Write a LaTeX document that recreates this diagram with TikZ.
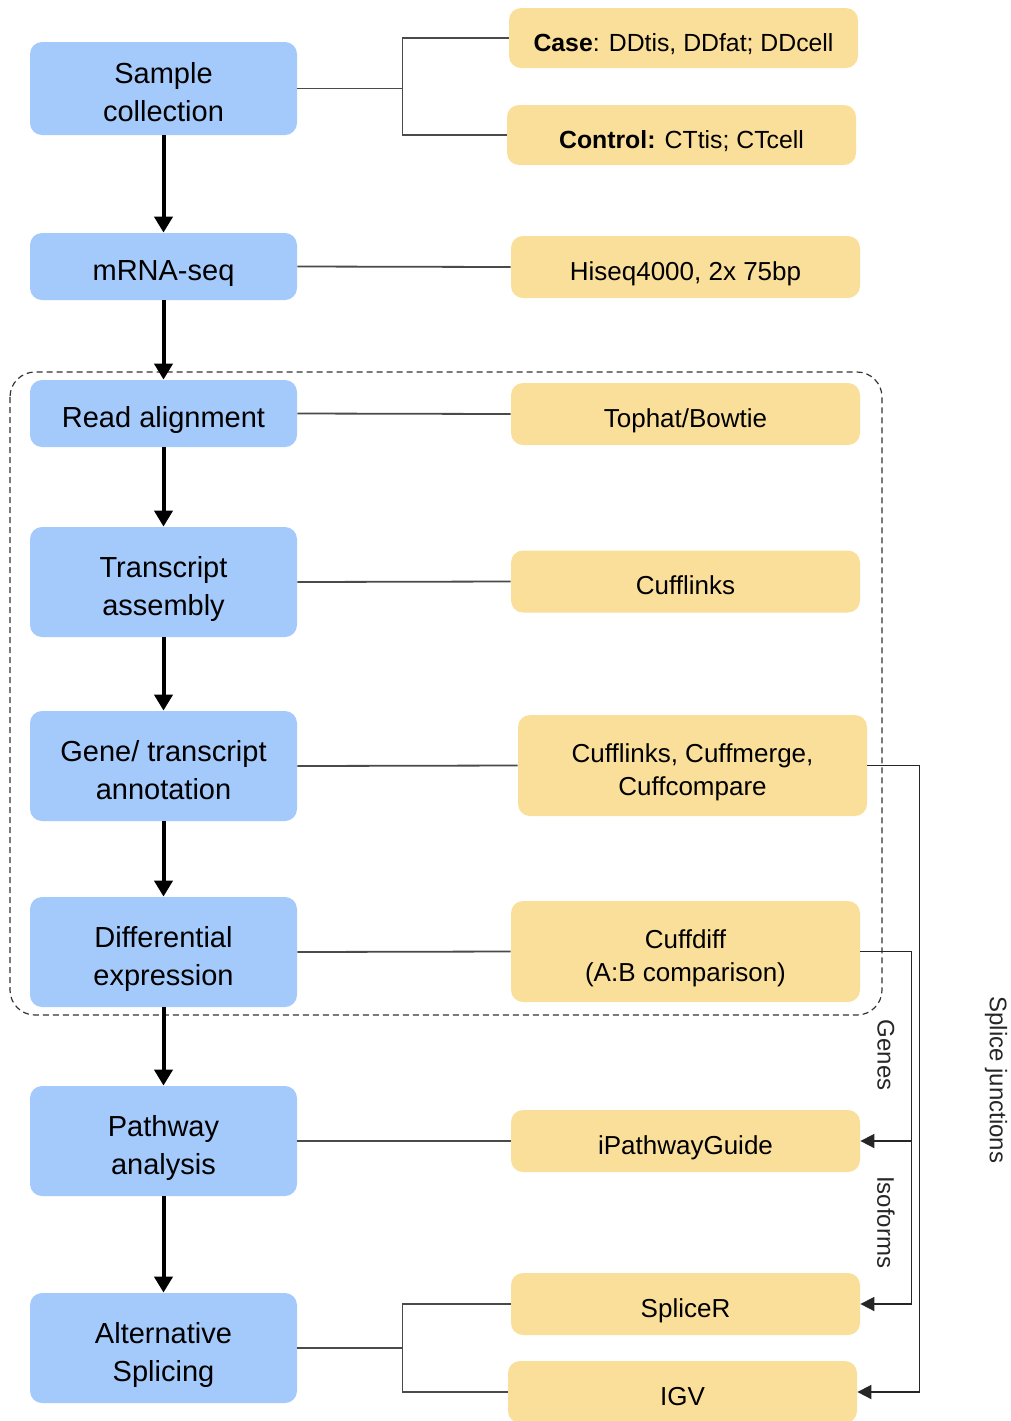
\documentclass[tikz,border=0pt]{standalone}
\usepackage{fontspec}
\setmainfont{Liberation Sans}
\usetikzlibrary{arrows.meta}
\definecolor{bfill}{HTML}{A4C9FB}
\definecolor{yfill}{HTML}{FADF9A}
\definecolor{lgray}{HTML}{4A4A4A}
\newcommand\lw[1]{\raisebox{-3.3pt}[\height][\depth]{\begin{tabular}{@{}c@{}}#1\end{tabular}}}
\begin{document}
\begin{tikzpicture}[x=0.5pt,y=-0.5pt,
  bbox/.style={fill=bfill, draw=none, rounded corners=6pt, minimum width=133.5pt, inner sep=0pt, font=\fontsize{14.5}{19}\selectfont},
  ybox/.style={fill=yfill, draw=none, rounded corners=6pt, minimum width=174.5pt, minimum height=31pt, inner sep=0pt, font=\fontsize{13}{16.5}\selectfont},
  conn/.style={draw=lgray, line width=0.9pt},
  sidearrow/.style={draw=black!85, line width=0.9pt, -{Triangle[length=7pt,width=7pt]}},
  bigarrow/.style={draw=black, line width=2pt, -{Triangle[length=8pt,width=9pt]}},
  lbl/.style={font=\fontsize{12}{14}\selectfont, rotate=-90, text=black!85}
]
\useasboundingbox (0,0) rectangle (1011,1421);
% dashed group
\draw[dashed, line width=0.6pt, draw=black!80, dash pattern=on 3pt off 2pt, rounded corners=12.5pt] (10,372) rectangle (882,1015);

% blue boxes
\node[bbox, minimum height=46.5pt] (s1) at (163.5,88.5) {\lw{Sample\\collection}};
\node[bbox, minimum height=33.5pt] (s2) at (163.5,266.5) {\lw{mRNA-seq}};
\node[bbox, minimum height=33.5pt] (s3) at (163.5,413.5) {\lw{Read alignment}};
\node[bbox, minimum height=55pt] (s4) at (163.5,582) {\lw{Transcript\\assembly}};
\node[bbox, minimum height=55pt] (s5) at (163.5,766) {\lw{Gene/ transcript\\annotation}};
\node[bbox, minimum height=55pt] (s6) at (163.5,952) {\lw{Differential\\expression}};
\node[bbox, minimum height=55pt] (s7) at (163.5,1141) {\lw{Pathway\\analysis}};
\node[bbox, minimum height=55pt] (s8) at (163.5,1348) {\lw{Alternative\\Splicing}};

% yellow boxes
\node[ybox, minimum height=30pt, font=\fontsize{12.4}{16}\selectfont] (case) at (683.5,38) {\lw{\textbf{Case}: DDtis, DDfat; DDcell}};
\node[ybox, minimum height=30pt, font=\fontsize{12.4}{16}\selectfont] (ctrl) at (681.5,135) {\lw{\textbf{Control:} CTtis; CTcell}};
\node[ybox] (hiseq) at (685.5,267) {\lw{Hiseq4000, 2x 75bp}};
\node[ybox] (toph) at (685.5,414) {\lw{Tophat/Bowtie}};
\node[ybox] (cuff) at (685.5,581.5) {\lw{Cufflinks}};
\node[ybox, minimum height=50.5pt] (cm) at (692.5,765.5) {\lw{Cufflinks, Cuffmerge,\\Cuffcompare}};
\node[ybox, minimum height=50.5pt] (cd) at (685.5,951.5) {\lw{Cuffdiff\\(A:B comparison)}};
\node[ybox] (ipg) at (685.5,1141) {\lw{iPathwayGuide}};
\node[ybox] (spl) at (685.5,1304) {\lw{SpliceR}};
\node[ybox] (igv) at (682.5,1392) {\lw{IGV}};

% main flow arrows
\draw[bigarrow] (s1.south) -- (s2.north);
\draw[bigarrow] (s2.south) -- (s3.north);
\draw[bigarrow] (s3.south) -- (s4.north);
\draw[bigarrow] (s4.south) -- (s5.north);
\draw[bigarrow] (s5.south) -- (s6.north);
\draw[bigarrow] (s6.south) -- (s7.north);
\draw[bigarrow] (s7.south) -- (s8.north);

% connectors to tools
\draw[conn] (s1.east) -- ++(105,0) coordinate (b1);
\draw[conn] (b1) |- (case.west);
\draw[conn] (b1) |- (ctrl.west);
\draw[conn] (s2.east) -- (hiseq.west);
\draw[conn] (s3.east) -- (toph.west);
\draw[conn] (s4.east) -- (cuff.west);
\draw[conn] (s5.east) -- (cm.west);
\draw[conn] (s6.east) -- (cd.west);
\draw[conn] (s7.east) -- (ipg.west);
\draw[conn] (s8.east) -- ++(105,0) coordinate (b2);
\draw[conn] (b2) |- (spl.west);
\draw[conn] (b2) |- (igv.west);

% right side feedback arrows
\draw[sidearrow] (cm.east) -- ++(52,0) |- (igv.east);
\draw[sidearrow] (cd.east) -- ++(51,0) |- (spl.east);
\draw[sidearrow] (cd.east) -- ++(51,0) |- (ipg.east);

% labels
\node[lbl] (genes) at (886,1055) {Genes};
\node[lbl] (iso) at (886,1222) {Isoforms};
\node[lbl] (sj) at (996,1080) {Splice junctions};
\end{tikzpicture}
\end{document}
